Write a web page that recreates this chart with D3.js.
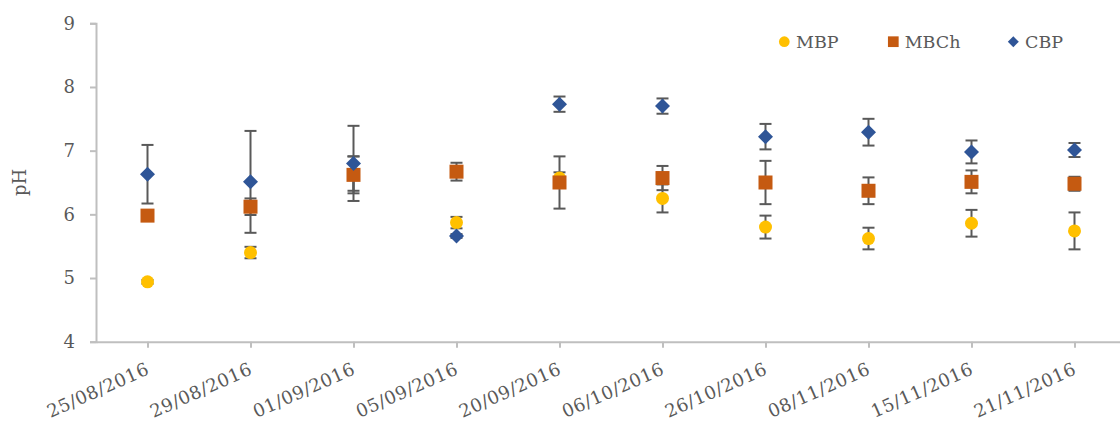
<!DOCTYPE html>
<html>
<head>
<meta charset="utf-8">
<script src="https://cdn.jsdelivr.net/npm/d3@7"></script>
<style>
  html, body { margin: 0; padding: 0; background: #ffffff; }
  svg { display: block; }
</style>
</head>
<body>
<svg id="chart" width="1120" height="423"></svg>
<script>
const dates = ["25/08/2016","29/08/2016","01/09/2016","05/09/2016","20/09/2016","06/10/2016","26/10/2016","08/11/2016","15/11/2016","21/11/2016"];
const mbp      = [4.94, 5.40, 6.64, 5.87, 6.57, 6.25, 5.80, 5.62, 5.86, 5.74];
const mbpErr   = [0.03, 0.09, 0.27, 0.09, 0.09, 0.22, 0.18, 0.17, 0.21, 0.29];
const mbch     = [5.98, 6.12, 6.62, 6.67, 6.50, 6.57, 6.50, 6.37, 6.51, 6.48];
const mbchErr  = [0.05, 0.13, 0.29, 0.14, 0.41, 0.19, 0.34, 0.21, 0.18, 0.11];
const cbp      = [6.63, 6.51, 6.80, 5.66, 7.73, 7.70, 7.22, 7.29, 6.98, 7.01];
const cbpErr   = [0.46, 0.80, 0.59, 0.03, 0.12, 0.12, 0.20, 0.21, 0.18, 0.11];
const yTicks   = [4, 5, 6, 7, 8, 9];
const seriesNames = ["MBP", "MBCh", "CBP"];

(function () {
const FONT = "'DejaVu Serif', 'Liberation Serif', serif";
const TXT = "#595959";
const AXIS = "#bfbfbf";
const ERR = "#595959";

const svg = d3.select("#chart");
const pLeft = 96, pRight = 1126, pTop = 23.3, pBottom = 341.7;

const x = d3.scalePoint().domain(dates).range([pLeft, pRight]).padding(0.5);
const y = d3.scaleLinear().domain([4, 9]).range([pBottom, pTop]);

// Y axis
const yAxis = d3.axisLeft(y).tickValues(yTicks).tickSize(6).tickPadding(15).tickFormat(d3.format("d"));
const gy = svg.append("g").attr("transform", `translate(${pLeft},0)`).call(yAxis);
gy.select(".domain").attr("stroke", AXIS).attr("stroke-width", 2);
gy.selectAll(".tick line").attr("stroke", AXIS).attr("stroke-width", 2);
gy.selectAll(".tick text").attr("fill", TXT).style("font-family", FONT).style("font-size", "18px");

// X axis
const xAxis = d3.axisBottom(x).tickSize(6).tickSizeOuter(0);
const gx = svg.append("g").attr("transform", `translate(0,${pBottom})`).call(xAxis);
gx.select(".domain").attr("stroke", AXIS).attr("stroke-width", 2);
gx.selectAll(".tick line").attr("stroke", AXIS).attr("stroke-width", 2);
gx.selectAll(".tick text")
  .attr("fill", TXT).style("font-family", FONT).style("font-size", "18px")
  .attr("text-anchor", "end")
  .attr("dy", null)
  .attr("y", 0)
  .attr("textLength", 109)
  .attr("lengthAdjust", "spacing")
  .attr("transform", "translate(2,32) rotate(-24)");

// Y title
svg.append("text")
  .attr("transform", `translate(26,${(pTop + pBottom) / 2}) rotate(-90)`)
  .attr("text-anchor", "middle")
  .attr("fill", TXT).style("font-family", FONT).style("font-size", "18px")
  .text("pH");

const series = [
  { name: "MBP", vals: mbp, errs: mbpErr, color: "#FFC000", shape: "circle" },
  { name: "MBCh", vals: mbch, errs: mbchErr, color: "#C55A11", shape: "square" },
  { name: "CBP", vals: cbp, errs: cbpErr, color: "#2F5597", shape: "diamond" }
];

// Error bars (beneath markers)
const errG = svg.append("g");
series.forEach(s => {
  dates.forEach((d, i) => {
    const cx = x(d), v = s.vals[i], e = s.errs[i];
    const y1 = y(v + e), y2 = y(v - e);
    const g = errG.append("g").attr("stroke", ERR).attr("stroke-width", 2);
    g.append("line").attr("x1", cx).attr("x2", cx).attr("y1", y1).attr("y2", y2);
    g.append("line").attr("x1", cx - 6).attr("x2", cx + 6).attr("y1", y1).attr("y2", y1);
    g.append("line").attr("x1", cx - 6).attr("x2", cx + 6).attr("y1", y2).attr("y2", y2);
  });
});

function drawMarker(g, shape, cx, cy, size, color) {
  if (shape === "circle") {
    g.append("circle").attr("cx", cx).attr("cy", cy).attr("r", size / 2).attr("fill", color);
  } else if (shape === "square") {
    g.append("rect").attr("x", cx - size / 2).attr("y", cy - size / 2).attr("width", size).attr("height", size).attr("fill", color);
  } else {
    const h = size / 2 + 0.5;
    g.append("path").attr("d", `M${cx},${cy - h}L${cx + h},${cy}L${cx},${cy + h}L${cx - h},${cy}Z`).attr("fill", color);
  }
}

const markG = svg.append("g");
series.forEach(s => {
  dates.forEach((d, i) => {
    const sz = s.shape === "circle" ? 13 : 14;
    drawMarker(markG, s.shape, x(d), y(s.vals[i]), sz, s.color);
  });
});

// Legend
const legend = [
  { m: 784.3, t: 796 },
  { m: 893.3, t: 904.7 },
  { m: 1013.3, t: 1025 }
];
const legG = svg.append("g");
series.forEach((s, i) => {
  const ly = 41.7;
  const sz = s.shape === "diamond" ? 10 : 10.7;
  drawMarker(legG, s.shape, legend[i].m, ly, sz, s.color);
  legG.append("text")
    .attr("x", legend[i].t).attr("y", ly).attr("dy", "0.35em")
    .attr("fill", TXT).style("font-family", FONT).style("font-size", "17.5px")
    .text(seriesNames[i]);
});
})();
</script>
</body>
</html>
